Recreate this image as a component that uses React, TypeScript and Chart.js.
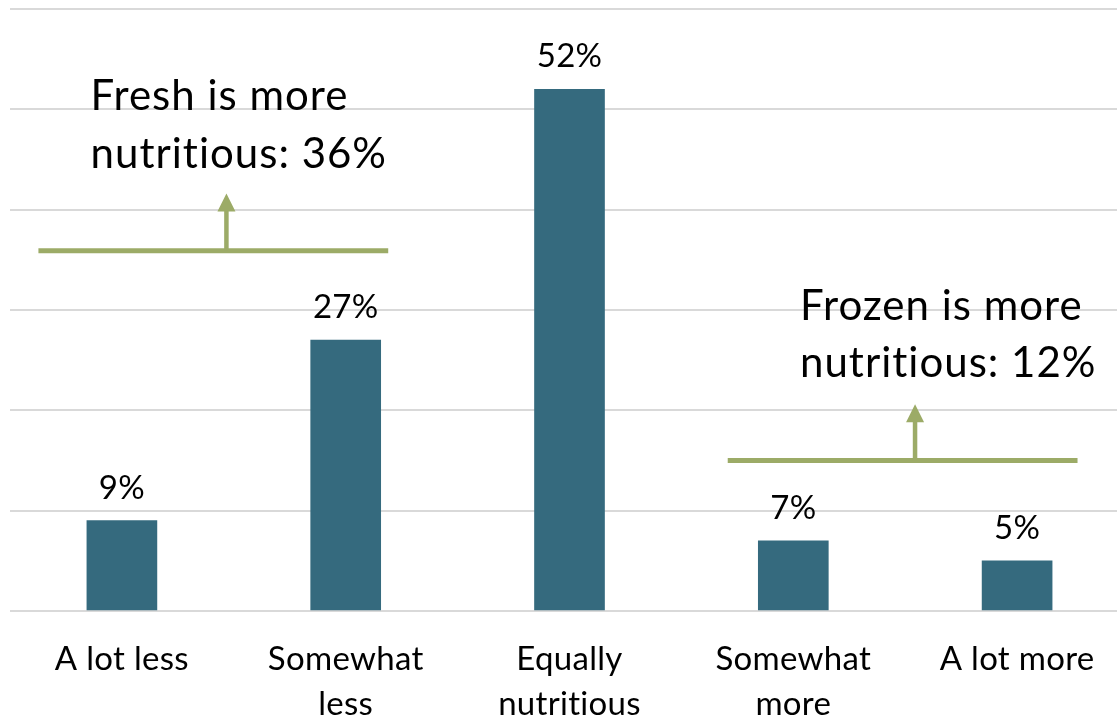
import React, { useEffect, useRef } from "react";
import { Chart, registerables } from "chart.js";

Chart.register(...registerables);

const categories: string[][] = [
  ["A lot less"],
  ["Somewhat", "less"],
  ["Equally", "nutritious"],
  ["Somewhat", "more"],
  ["A lot more"],
];
const values: number[] = [9, 27, 52, 7, 5];
const valueLabels: string[] = ["9%", "27%", "52%", "7%", "5%"];
const freshText: string[] = ["Fresh is more", "nutritious: 36%"];
const frozenText: string[] = ["Frozen is more", "nutritious: 12%"];

const FONT = "Lato, 'Noto Sans', sans-serif";
const BAR = "#356a7e";
const GREEN = "#9cab67";

// annotation layout in data units (x: category index, y: percent)
const callouts = [
  { text: freshText, textX: -0.14, textY: [49.9, 44.2], lineX: [-0.373, 1.19], lineY: 35.9, arrowX: 0.467, arrowTop: 41.6 },
  { text: frozenText, textX: 3.03, textY: [29.0, 23.3], lineX: [2.707, 4.27], lineY: 15.0, arrowX: 3.544, arrowTop: 20.6 },
];

const spacingPlugin = {
  id: "spacing",
  beforeDraw(chart: any) {
    chart.ctx.letterSpacing = "0.3px";
  },
};

const labelPlugin = {
  id: "valueLabels",
  afterDatasetsDraw(chart: any) {
    const ctx = chart.ctx;
    const meta = chart.getDatasetMeta(0);
    ctx.save();
    ctx.font = `33px ${FONT}`;
    ctx.fillStyle = "#000";
    ctx.textAlign = "center";
    ctx.textBaseline = "alphabetic";
    meta.data.forEach((bar: any, i: number) => {
      ctx.fillText(valueLabels[i], bar.x, bar.y - 22);
    });
    ctx.restore();
  },
};

const calloutPlugin = {
  id: "callouts",
  afterDraw(chart: any) {
    const ctx = chart.ctx;
    const xs = chart.scales.x;
    const ys = chart.scales.y;
    ctx.save();
    callouts.forEach((c) => {
      ctx.font = `42px ${FONT}`;
      ctx.letterSpacing = "1px";
      ctx.fillStyle = "#000";
      ctx.textAlign = "left";
      ctx.textBaseline = "alphabetic";
      c.text.forEach((t, i) => {
        ctx.fillText(t, xs.getPixelForValue(c.textX), ys.getPixelForValue(c.textY[i]));
      });
      const ly = ys.getPixelForValue(c.lineY);
      ctx.strokeStyle = GREEN;
      ctx.fillStyle = GREEN;
      ctx.lineWidth = 5;
      ctx.beginPath();
      ctx.moveTo(xs.getPixelForValue(c.lineX[0]), ly);
      ctx.lineTo(xs.getPixelForValue(c.lineX[1]), ly);
      ctx.stroke();
      const ax = xs.getPixelForValue(c.arrowX);
      const top = ys.getPixelForValue(c.arrowTop);
      ctx.lineWidth = 4.5;
      ctx.beginPath();
      ctx.moveTo(ax, ly);
      ctx.lineTo(ax, top + 16);
      ctx.stroke();
      ctx.beginPath();
      ctx.moveTo(ax, top);
      ctx.lineTo(ax - 9, top + 18);
      ctx.lineTo(ax + 9, top + 18);
      ctx.closePath();
      ctx.fill();
    });
    ctx.restore();
  },
};

export default function App() {
  const ref = useRef<HTMLCanvasElement | null>(null);
  useEffect(() => {
    if (!ref.current) return;
    const chart = new Chart(ref.current, {
      type: "bar",
      data: {
        labels: categories as any,
        datasets: [
          {
            data: values,
            backgroundColor: BAR,
            barThickness: 70,
          },
        ],
      },
      options: {
        animation: false,
        responsive: false,
        maintainAspectRatio: false,
        layout: { padding: { left: 10, top: 9, right: 0, bottom: 0 } },
        plugins: { legend: { display: false }, tooltip: { enabled: false } },
        scales: {
          x: {
            offset: true,
            grid: { display: false },
            border: { display: false },
            ticks: {
              color: "#000",
              font: { family: FONT, size: 33, lineHeight: 1.36 },
              padding: 18,
              maxRotation: 0,
              autoSkip: false,
            },
            afterFit(scale: any) {
              scale.height = 109;
            },
          },
          y: {
            min: 0,
            max: 60,
            ticks: { display: false, stepSize: 10 },
            grid: { color: "#d9d9d9", lineWidth: 2, drawTicks: false },
            border: { display: false },
            afterFit(scale: any) {
              scale.width = 0;
            },
          },
        },
      },
      plugins: [spacingPlugin, labelPlugin, calloutPlugin],
    });
    return () => chart.destroy();
  }, []);
  return (
    <div style={{ position: "fixed", left: 0, top: 0, width: 1117, height: 720, overflow: "hidden", background: "#fff" }}>
      <canvas ref={ref} width={1129} height={720} style={{ width: 1129, height: 720, display: "block" }} />
    </div>
  );
}
